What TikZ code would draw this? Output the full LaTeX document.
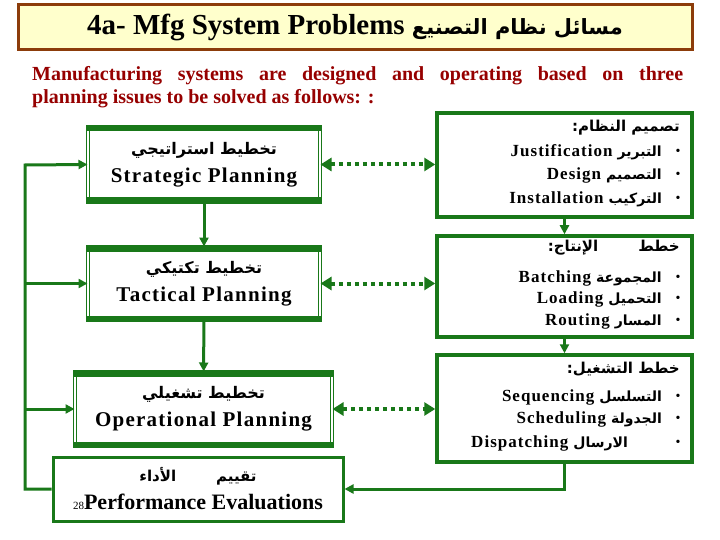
\documentclass[tikz,border=0pt]{standalone}
\usepackage{fontspec}
\setmainfont{Liberation Serif}
\newfontfamily\arabicfont[Script=Arabic]{DejaVu Sans}
\newfontfamily\widefont[LetterSpace=6]{Liberation Serif}
\TeXXeTstate=1
\usetikzlibrary{arrows.meta}
\definecolor{boxgreen}{RGB}{25,120,25}
\definecolor{introred}{RGB}{150,0,0}
\definecolor{titlebrown}{RGB}{140,60,10}
\definecolor{titlefill}{RGB}{255,255,204}
\newcommand{\ar}[2]{{\arabicfont\bfseries\fontsize{#1}{#1}\selectfont #2}}
\newcommand{\eng}[1]{{\widefont\bfseries\fontsize{17}{19}\selectfont #1}\hspace{5pt}}
\tikzset{
  planbox/.style={draw=boxgreen, line width=1pt, double=white, double distance=1.2pt,
    minimum width=232pt, minimum height=75pt, align=center, inner sep=0pt,
    font=\widefont\bfseries\fontsize{21}{28}\selectfont},
  listbox/.style={draw=boxgreen, line width=3.5pt, minimum width=255pt},
  flow/.style={draw=boxgreen, line width=3pt, -{Triangle[length=9pt,width=9pt]}},
  link/.style={draw=boxgreen, line width=4pt, dash pattern=on 4pt off 4pt,
    {Triangle[length=11pt,width=13pt]}-{Triangle[length=11pt,width=13pt]}},
  listline/.style={anchor=east, inner sep=0pt},
  bulletmark/.style={inner sep=0pt, font=\fontsize{14}{14}\selectfont},
}
\begin{document}
\begin{tikzpicture}[x=1pt, y=-1pt]
    \useasboundingbox (0,0) rectangle (720,540);

    % Title
    \node[draw=titlebrown, line width=3pt, fill=titlefill, minimum width=674pt, minimum height=45pt,
      font=\bfseries\fontsize{29}{32}\selectfont] (title) at (355,27.5)
      {4a- Mfg System Problems \ar{21}{\beginR مسائل نظام التصنيع\endR}};

    % Intro text
    \node[anchor=north west, text width=651pt, align=justify, inner sep=0pt, text=introred,
      font=\bfseries\fontsize{20}{23}\selectfont] (intro) at (32,66)
      {Manufacturing systems are designed and operating based on three\linebreak
       planning issues to be solved as follows: :};

    % Planning levels
    \node[planbox] (strat) at (204,164.5) {\ar{16}{\beginR تخطيط استراتيجي\endR}\\Strategic Planning};
    \node[planbox, minimum height=73pt] (tact) at (204,283.5) {\ar{16}{\beginR تخطيط تكتيكي\endR}\\Tactical Planning};
    \node[planbox, minimum width=257pt, minimum height=74pt] (oper) at (203.5,409)
      {\ar{16}{\beginR تخطيط تشغيلي\endR}\\Operational Planning};
    \foreach \n in {strat,tact,oper} {
      \fill[boxgreen] ([shift={(-1.6pt,1.6pt)}]\n.north west) rectangle ([shift={(1.6pt,-5pt)}]\n.north east);
      \fill[boxgreen] ([shift={(-1.6pt,5pt)}]\n.south west) rectangle ([shift={(1.6pt,-1.6pt)}]\n.south east);
    }

    % Performance
    \node[draw=boxgreen, line width=3pt, minimum width=290pt, minimum height=64pt, align=center,
      inner sep=0pt, font=\bfseries\fontsize{22}{28}\selectfont] (perf) at (198,489)
      {\ar{15}{\beginR تقييم\hspace{40pt}الأداء\endR}\\{\mdseries\fontsize{11}{11}\selectfont 28}Performance Evaluations};

    % System design box
    \node[listbox, minimum height=104pt] (r1) at (564.5,165) {};
    \node[listline] (r1h) at (680,128) {\ar{15}{\beginR تصميم النظام:\endR}};
    \node[listline] (r1a) at (662,152) {\eng{Justification}\ar{14}{التبرير}};
    \node[listline] (r1b) at (662,175) {\eng{Design}\ar{14}{التصميم}};
    \node[listline] (r1c) at (662,199) {\eng{Installation}\ar{14}{التركيب}};

    % Production planning box
    \node[listbox, minimum height=101pt] (r2) at (564.5,286.5) {};
    \node[listline] (r2h) at (680,248) {\ar{15}{\beginR خطط\hspace{40pt}الإنتاج:\endR}};
    \node[listline] (r2a) at (662,278) {\eng{Batching}\ar{14}{المجموعة}};
    \node[listline] (r2b) at (662,299) {\eng{Loading}\ar{14}{التحميل}};
    \node[listline] (r2c) at (662,321) {\eng{Routing}\ar{14}{المسار}};

    % Operations planning box
    \node[listbox, minimum height=107pt] (r3) at (564.5,408.5) {};
    \node[listline] (r3h) at (680,369) {\ar{15}{\beginR خطط التشغيل:\endR}};
    \node[listline] (r3a) at (662,397) {\eng{Sequencing}\ar{14}{التسلسل}};
    \node[listline] (r3b) at (662,419) {\eng{Scheduling}\ar{14}{الجدولة}};
    \node[listline] (r3c) at (628,443) {\eng{Dispatching}\ar{14}{الارسال}};

    % Bullets
    \foreach \y in {152,175,199,278,299,321,397,419,443}
      \node[bulletmark] at (678,\y) {\textbullet};

    % Flow between levels
    \draw[flow] (strat) -- (tact);
    \draw[flow] (tact) -- (oper);
    \draw[flow] (r1) -- (r2);
    \draw[flow] (r2) -- (r3);

    % Links left-right
    \draw[link] (strat.east) -- (strat.east -| r1.west);
    \draw[link] (tact.east) -- (tact.east -| r2.west);
    \draw[link] (oper.east) -- (oper.east -| r3.west);

    % Feedback
    \coordinate (fb) at (25,165);
    \draw[flow] (perf.west) -| (fb) -- (strat.west);
    \draw[flow] (fb |- tact.west) -- (tact.west);
    \draw[flow] (fb |- oper.west) -- (oper.west);
    \draw[flow] (r3.south) |- (perf.east);
\end{tikzpicture}
\end{document}
